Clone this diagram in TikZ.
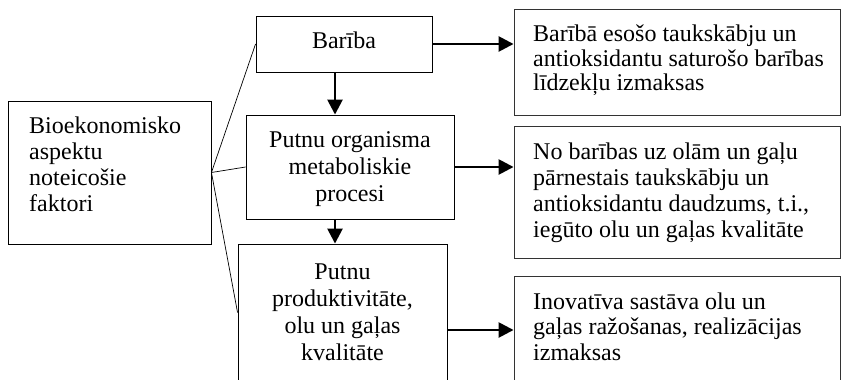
\documentclass[tikz,border=0pt]{standalone}
\usepackage{fontspec}
\setmainfont{Liberation Serif}
\usetikzlibrary{arrows.meta,calc}
\tikzset{
  box/.style={draw=black, line width=0.9pt, inner sep=0pt, rectangle},
  rbox/.style={draw=black!80, line width=0.9pt, inner sep=0pt, rectangle},
  txt/.style={inner sep=0pt, font=\fontsize{24}{26}\selectfont},
  link/.style={draw=black, line width=0.7pt},
  flow/.style={draw=black, line width=2.6pt, -{Triangle[length=15pt,width=15pt]}}
}
\begin{document}
\begin{tikzpicture}[x=1pt,y=-1pt]
\clip (0,0) rectangle (841,380);
\fill[white] (0,0) rectangle (841,380);
% boxes
\node[box, minimum width=203pt, minimum height=143pt] (left) at (109.5,172.5) {};
\node[box, minimum width=176pt, minimum height=56pt] (bariba) at (344,44) {};
\node[box, minimum width=208pt, minimum height=104pt] (proc) at (350,167) {};
\node[box, minimum width=209pt, minimum height=137pt] (prod) at (342.5,312.5) {};
\node[rbox, minimum width=326pt, minimum height=106pt] (r1) at (677,62) {};
\node[rbox, minimum width=326pt, minimum height=132pt] (r2) at (677,192) {};
\node[rbox, minimum width=326pt, minimum height=110pt] (r3) at (677,331) {};
% texts
\node[txt, anchor=base west] (tleft) at (29,133) {\begin{tabular}[t]{@{}l@{}}Bioekonomisko\\aspektu\\noteicošie\\faktori\end{tabular}};
\node[txt, anchor=base] (tbariba) at (344,48) {Barība};
\node[txt, anchor=base, font=\fontsize{24}{27}\selectfont] (tproc) at (350,147) {\begin{tabular}[t]{@{}c@{}}Putnu organisma\\metaboliskie\\procesi\end{tabular}};
\node[txt, anchor=base, font=\fontsize{24}{27}\selectfont] (tprod) at (342.5,279) {\begin{tabular}[t]{@{}c@{}}Putnu\\produktivitāte,\\olu un gaļas\\kvalitāte\end{tabular}};
\node[txt, anchor=base west, font=\fontsize{24}{25}\selectfont] (tr1) at (533,41) {\begin{tabular}[t]{@{}l@{}}Barībā esošo taukskābju un\\antioksidantu saturošo barības\\līdzekļu izmaksas\end{tabular}};
\node[txt, anchor=base west] (tr2) at (533,159) {\begin{tabular}[t]{@{}l@{}}No barības uz olām un gaļu\\pārnestais taukskābju un\\antioksidantu daudzums, t.i.,\\iegūto olu un gaļas kvalitāte\end{tabular}};
\node[txt, anchor=base west, font=\fontsize{24}{25.5}\selectfont] (tr3) at (533,309) {\begin{tabular}[t]{@{}l@{}}Inovatīva sastāva olu un\\gaļas ražošanas, realizācijas\\izmaksas\end{tabular}};
% thin links from the left box
\draw[link] (left.east) -- (bariba.west);
\draw[link] (left.east) -- (proc.west);
\draw[link] (left.east) -- (prod.west);
% flow arrows
\draw[flow] (bariba.east) -- (bariba.east -| r1.west);
\draw[flow] (proc.east) -- (proc.east -| r2.west);
\draw[flow] ([yshift=-17.5pt]prod.east) -- ([yshift=-17.5pt]prod.east -| r3.west);
\draw[flow] ([xshift=-9pt]bariba.south) -- ([xshift=-9pt]bariba.south |- proc.north);
\draw[flow] ([xshift=-15pt]proc.south) -- ([xshift=-15pt]proc.south |- prod.north);
\end{tikzpicture}
\end{document}
